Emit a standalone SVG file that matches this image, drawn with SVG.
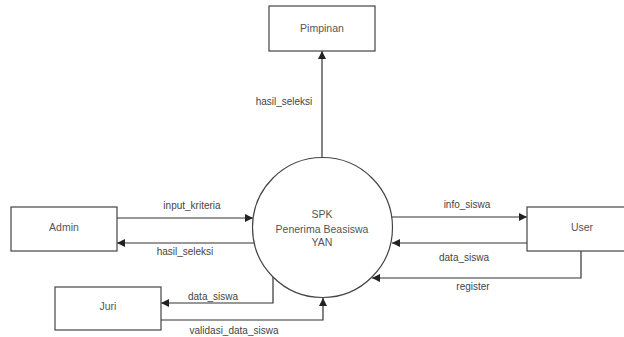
<svg xmlns="http://www.w3.org/2000/svg" width="624" height="337" viewBox="0 0 624 337">
<defs>
<marker id="arr" viewBox="0 0 10 10" refX="10" refY="5" markerWidth="8" markerHeight="8" markerUnits="userSpaceOnUse" orient="auto">
<path d="M0,0 L10,5 L0,10 z" fill="#222"/>
</marker>
<style>
.box{fill:#fff;stroke:#444;stroke-width:1.2}
.t{font-family:"Liberation Sans",Arial,sans-serif;font-size:10.5px;fill:#555;text-anchor:middle}
.l{font-family:"Liberation Sans",Arial,sans-serif;font-size:10px;fill:#444;text-anchor:middle}
.c{fill:none;stroke:#333;stroke-width:1.2;marker-end:url(#arr)}
</style>
</defs>
<rect width="624" height="337" fill="#fff"/>
<g id="connectors">
<path class="c" d="M117,218 L253,218"/>
<path class="c" d="M254,243 L117,243"/>
<path class="c" d="M322,157 L322,51"/>
<path class="c" d="M392,217 L527,217"/>
<path class="c" d="M527,243 L392,243"/>
<path class="c" d="M581,251 L581,278 L372,278"/>
<path class="c" d="M273,277 L273,303 L161,303"/>
<path class="c" d="M161,320 L323,320 L323,298"/>
<text class="l" x="192" y="209">input_kriteria</text>
<text class="l" x="185" y="255">hasil_seleksi</text>
<text class="l" x="284" y="105">hasil_seleksi</text>
<text class="l" x="467" y="208">info_siswa</text>
<text class="l" x="464" y="261">data_siswa</text>
<text class="l" x="473" y="290">register</text>
<text class="l" x="213" y="300">data_siswa</text>
<text class="l" x="234" y="334">validasi_data_siswa</text>
</g>
<g id="admin">
<rect class="box" x="11" y="207" width="106" height="44"/>
<text class="t" x="64" y="231">Admin</text>
</g>
<g id="juri">
<rect class="box" x="55" y="287" width="106" height="43"/>
<text class="t" x="108" y="310">Juri</text>
</g>
<g id="pimpinan">
<rect class="box" x="269" y="6" width="106" height="45"/>
<text class="t" x="322" y="32">Pimpinan</text>
</g>
<g id="user">
<rect class="box" x="527" y="207" width="108" height="44"/>
<text class="t" x="582" y="231">User</text>
</g>
<g id="spk">
<circle cx="322.5" cy="227.5" r="70" fill="#fff" stroke="#444" stroke-width="1.2"/>
<text class="t" x="322" y="218">SPK</text>
<text class="t" x="322" y="233">Penerima Beasiswa</text>
<text class="t" x="322" y="246">YAN</text>
</g>
</svg>
